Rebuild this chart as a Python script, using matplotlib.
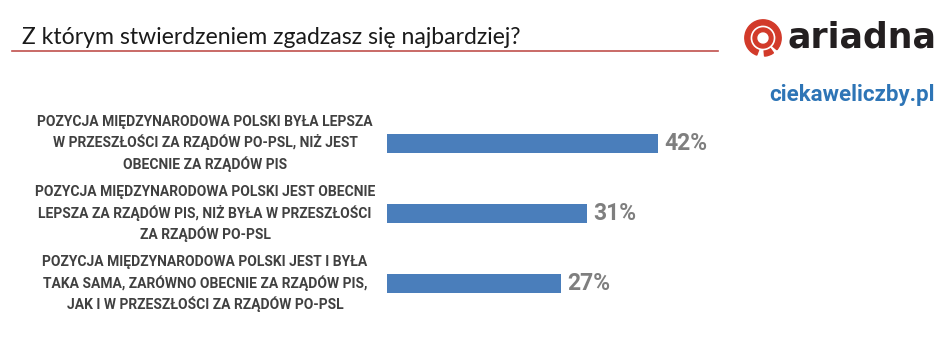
import matplotlib.pyplot as plt
import matplotlib.transforms as mtransforms
from matplotlib.patches import Wedge
from matplotlib.lines import Line2D

# data
labels = [
    "POZYCJA MIĘDZYNARODOWA POLSKI BYŁA LEPSZA\nW PRZESZŁOŚCI ZA RZĄDÓW PO-PSL, NIŻ JEST\nOBECNIE ZA RZĄDÓW PIS",
    "POZYCJA MIĘDZYNARODOWA POLSKI JEST OBECNIE\nLEPSZA ZA RZĄDÓW PIS, NIŻ BYŁA W PRZESZŁOŚCI\nZA RZĄDÓW PO-PSL",
    "POZYCJA MIĘDZYNARODOWA POLSKI JEST I BYŁA\nTAKA SAMA, ZARÓWNO OBECNIE ZA RZĄDÓW PIS,\nJAK I W PRZESZŁOŚCI ZA RZĄDÓW PO-PSL",
]
values = [42, 31, 27]
title = "Z którym stwierdzeniem zgadzasz się najbardziej?"

W, H = 946, 354
fig = plt.figure(figsize=(W / 100, H / 100), dpi=100)
fig.patch.set_facecolor("white")

# bars axes: left at 387px, 6.45 px per percent
ax = fig.add_axes([387 / W, 1 - 319 / H, 322.5 / W, 211 / H])
ax.barh(range(len(values)), values, height=0.27, color="#4a7ebb")
ax.set_xlim(0, 50)
ax.set_ylim(2.5, -0.5)
ax.axis("off")

for i, v in enumerate(values):
    ax.text(v + 1.0, i, f"{v}%", va="center", ha="left", fontsize=16.5,
            fontweight="bold", color="#7f7f7f", family="Roboto")

trans = mtransforms.blended_transform_factory(fig.transFigure, ax.transData)
for i, lab in enumerate(labels):
    ax.text(205 / W, i, lab, transform=trans, ha="center", va="center",
            fontsize=10, fontweight="bold", color="#404040", family="Roboto",
            linespacing=1.45)

# title and red rule
fig.text(22 / W, 1 - 37 / H, title, ha="left", va="center", fontsize=16.6,
         color="#1a1a1a", family="Lato")
fig.add_artist(Line2D([12 / W, 718 / W], [1 - 51 / H, 1 - 51 / H],
                      transform=fig.transFigure, color="#c0504d", lw=1.2))

# logo
lax = fig.add_axes([743 / W, 1 - 58 / H, 40 / W, 40 / H])
lax.set_xlim(-1.1, 1.1)
lax.set_ylim(-1.1, 1.1)
lax.set_aspect("equal")
lax.axis("off")
red = "#d23a2a"
lax.add_patch(Wedge((0, 0), 1.0, -40, 250, width=0.28, color=red))
lax.add_patch(Wedge((0, 0), 0.55, 0, 360, width=0.2, color=red))
lax.add_patch(Wedge((0, 0), 1.0, -85, -55, width=0.28, color=red))
fig.text(787 / W, 1 - 38 / H, "ariadna", ha="left", va="center", fontsize=25,
         fontweight="bold", color="#231f20", family="DejaVu Sans")
fig.text(935 / W, 1 - 95 / H, "ciekaweliczby.pl", ha="right", va="center",
         fontsize=16, fontweight="bold", color="#2e75b6", family="Roboto")

fig.savefig("out.png", dpi=100)
